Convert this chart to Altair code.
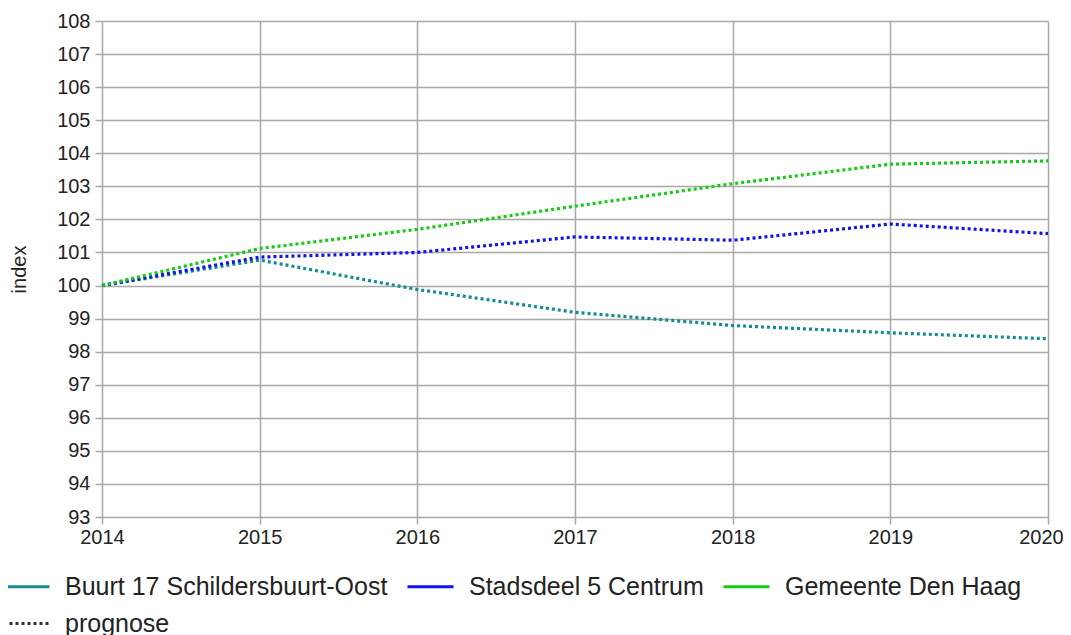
import altair as alt
import pandas as pd

years = [2014, 2015, 2016, 2017, 2018, 2019, 2020]
buurt = [100.0, 100.77, 99.88, 99.19, 98.79, 98.57, 98.39]
stadsdeel = [100.0, 100.86, 101.0, 101.47, 101.37, 101.86, 101.57]
gemeente = [100.0, 101.12, 101.7, 102.4, 103.08, 103.67, 103.77]

series_names = ["Buurt 17 Schildersbuurt-Oost", "Stadsdeel 5 Centrum", "Gemeente Den Haag"]
series_colors = ["#138d8d", "#1212ee", "#14cc14"]
y_ticks = list(range(93, 109))

rows = []
for name, vals in zip(series_names, [buurt, stadsdeel, gemeente]):
    for y, v in zip(years, vals):
        rows.append({"jaar": y, "index": v, "serie": name, "soort": "prognose"})
df = pd.DataFrame(rows)

FONT = "Liberation Sans"
GRID = "#a8a8a8"

legend_common = dict(
    title=None, orient="none", direction="horizontal",
    symbolType="stroke", symbolSize=2116, symbolStrokeWidth=3,
    labelFont=FONT, labelFontSize=25, labelColor="#222222",
    labelOffset=14, columnPadding=13, labelLimit=600,
)

chart = alt.Chart(df).mark_line(
    strokeWidth=3.2, interpolate="linear"
).encode(
    x=alt.X("jaar:Q",
            scale=alt.Scale(domain=[2014, 2020], nice=False, zero=False),
            axis=alt.Axis(values=years, format="d", title=None, labelFlush=False,
                          labelOverlap=False, grid=True, gridColor=GRID, gridWidth=1.5,
                          tickColor=GRID, tickWidth=1.5, tickSize=7, domain=False,
                          labelFont=FONT, labelFontSize=20, labelColor="#222222",
                          labelPadding=3,
                          labelOffset=alt.ConditionalAxisNumber(
                              condition={"test": "datum.value == 2020", "value": -7},
                              value=0))),
    y=alt.Y("index:Q",
            scale=alt.Scale(domain=[93, 108], nice=False, zero=False),
            axis=alt.Axis(values=y_ticks, title="index", labelFlush=False,
                          labelOverlap=False, grid=True, gridColor=GRID, gridWidth=1.5,
                          tickColor=GRID, tickWidth=1.5, tickSize=7, domain=False,
                          labelFont=FONT, labelFontSize=20, labelColor="#222222",
                          labelPadding=5, titleFont=FONT, titleFontSize=20,
                          titleFontWeight="normal", titleColor="#222222",
                          titlePadding=27)),
    color=alt.Color("serie:N",
                    scale=alt.Scale(domain=series_names, range=series_colors),
                    sort=series_names,
                    legend=alt.Legend(legendX=-100, legendY=541, **legend_common)),
    strokeDash=alt.StrokeDash("soort:N",
                              scale=alt.Scale(domain=["prognose"], range=[[3, 3]]),
                              legend=alt.Legend(legendX=-100, legendY=578,
                                                symbolStrokeColor="#333333",
                                                **legend_common)),
).properties(
    width=946, height=496,
    autosize=alt.AutoSizeParams(type="none"),
    padding={"left": 94, "top": 13, "right": 15, "bottom": 118},
    background="white",
).configure_view(stroke=None)

chart.save("out.html", embed_options={"renderer": "svg", "actions": False})
